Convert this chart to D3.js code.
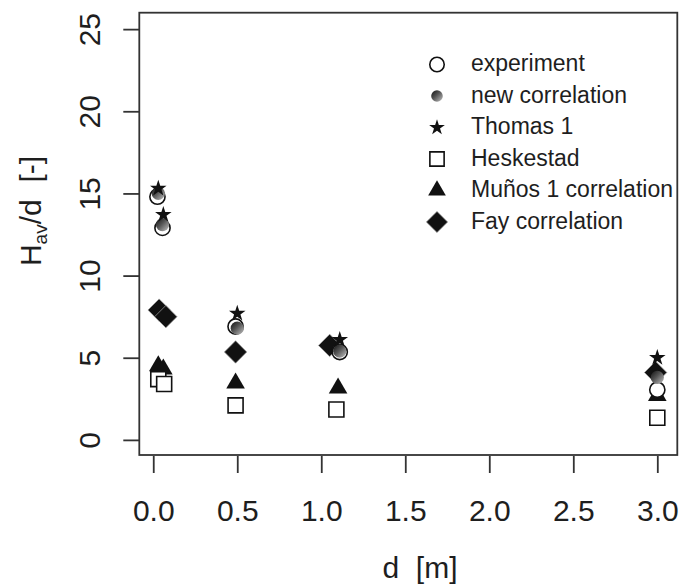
<!DOCTYPE html>
<html>
<head>
<meta charset="utf-8">
<script src="https://cdn.jsdelivr.net/npm/d3@7"></script>
<style>
  body { margin: 0; background: #fff; }
  svg { font-family: "Liberation Sans", Arial, sans-serif; }
</style>
</head>
<body>
<div id="chart"></div>
<script>
// values, d [m] and H_av/d [-]
const seriesNames = ['experiment', 'new correlation', 'Thomas 1', 'Heskestad', 'Muños 1 correlation', 'Fay correlation']

const xExperiment = [0.025, 0.055, 0.49, 1.11, 3.0]
const yExperiment = [14.8, 12.9, 6.9, 5.35, 3.05]

const xNewCorr = [0.03, 0.055, 0.5, 1.11, 3.0]
const yNewCorr = [15.0, 13.1, 6.8, 5.4, 3.8]

const xThomas = [0.03, 0.06, 0.5, 1.11, 3.0]
const yThomas = [15.3, 13.7, 7.7, 6.1, 5.0]

const xHeskestad = [0.03, 0.065, 0.49, 1.09, 3.0]
const yHeskestad = [3.7, 3.4, 2.1, 1.85, 1.35]

const xMunos = [0.03, 0.06, 0.49, 1.1, 3.0]
const yMunos = [4.5, 4.3, 3.45, 3.15, 2.7]

const xFay = [0.035, 0.075, 0.49, 1.05, 2.99]
const yFay = [7.9, 7.5, 5.35, 5.75, 4.1]

const xTicks = [0, 0.5, 1, 1.5, 2, 2.5, 3]
const yTicks = [0, 5, 10, 15, 20, 25]

const W = 688, H = 588
const ink = '#1e1e1e', frame = '#333'

const svg = d3.select('#chart').append('svg')
  .attr('width', W).attr('height', H)

// gradient for the grey "new correlation" balls
const grad = svg.append('defs').append('linearGradient')
  .attr('id', 'ball').attr('x1', 0).attr('y1', 0).attr('x2', 1).attr('y2', 1)
grad.append('stop').attr('offset', '0%').attr('stop-color', '#111')
grad.append('stop').attr('offset', '45%').attr('stop-color', '#555')
grad.append('stop').attr('offset', '100%').attr('stop-color', '#c4c4c4')

// R style: data range padded by 4% on each side
const x = d3.scaleLinear().domain([-0.083, 3.119]).range([139.3, 677.3])
const y = d3.scaleLinear().domain([-0.92, 26.0]).range([455, 12.7])

// axes
const xAxis = svg.append('g')
  .attr('transform', `translate(0,${y.range()[0] + 1})`)
  .call(d3.axisBottom(x).tickValues(xTicks).tickFormat(d3.format('.1f')).tickSize(17).tickPadding(27))
xAxis.select('.domain').remove()
xAxis.selectAll('line').attr('stroke', frame).attr('stroke-width', 1.8)
xAxis.selectAll('text').attr('font-size', 30).attr('fill', ink).attr('font-family', null)

const yAxis = svg.append('g')
  .attr('transform', `translate(${x.range()[0]},0)`)
  .call(d3.axisLeft(y).tickValues(yTicks).tickSize(16))
yAxis.select('.domain').remove()
yAxis.selectAll('line').attr('stroke', frame).attr('stroke-width', 1.8)
yAxis.selectAll('text')
  .attr('font-size', 30).attr('fill', ink).attr('font-family', null)
  .attr('x', 0).attr('y', -39).attr('dy', 0)
  .attr('text-anchor', 'middle')
  .attr('transform', 'rotate(-90)')

// plot frame
svg.append('rect')
  .attr('x', x.range()[0]).attr('y', y.range()[1])
  .attr('width', x.range()[1] - x.range()[0])
  .attr('height', y.range()[0] - y.range()[1])
  .attr('fill', 'none').attr('stroke', frame).attr('stroke-width', 1.8)

// axis titles
svg.append('text')
  .attr('x', 420).attr('y', 578)
  .attr('text-anchor', 'middle').attr('font-size', 30).attr('fill', ink)
  .style('white-space', 'pre')
  .text('d  [m]')

const yTitle = svg.append('text')
  .attr('transform', 'translate(41,211) rotate(-90)')
  .attr('text-anchor', 'middle').attr('font-size', 30).attr('fill', ink)
  .style('white-space', 'pre')
yTitle.append('tspan').text('H')
yTitle.append('tspan').attr('font-size', 19).attr('dy', 6).text('av')
yTitle.append('tspan').attr('dy', -6).text('/d  [-]')

// marker shapes
const markerStyles = {
  circle: (g, k) => g.append('circle').attr('r', 7.6 * k)
    .attr('fill', '#fff').attr('stroke', '#111').attr('stroke-width', 1.6),
  ball: (g, k) => g.append('circle').attr('r', 6.6 * k)
    .attr('fill', 'url(#ball)'),
  star: (g, k) => g.append('path')
    .attr('d', d3.symbol(d3.symbolStar, 85 * k * k)())
    .attr('fill', '#111'),
  square: (g, k) => g.append('path')
    .attr('d', d3.symbol(d3.symbolSquare, 225 * k * k)())
    .attr('fill', '#fff').attr('stroke', '#111').attr('stroke-width', 1.6),
  triangle: (g, k) => g.append('path')
    .attr('d', d3.symbol(d3.symbolTriangle, 150 * k * k)())
    .attr('fill', '#111'),
  diamond: (g, k) => g.append('path')
    .attr('d', d3.symbol(d3.symbolSquare, 250 * k * k)())
    .attr('transform', 'rotate(45)')
    .attr('fill', '#111').attr('stroke', '#9a9a9a').attr('stroke-width', 0.7)
}

// series table, in the order R drew them (first = bottom)
const series = [
  { name: seriesNames[5], xs: xFay, ys: yFay, shape: 'diamond' },
  { name: seriesNames[4], xs: xMunos, ys: yMunos, shape: 'triangle' },
  { name: seriesNames[3], xs: xHeskestad, ys: yHeskestad, shape: 'square' },
  { name: seriesNames[0], xs: xExperiment, ys: yExperiment, shape: 'circle' },
  { name: seriesNames[1], xs: xNewCorr, ys: yNewCorr, shape: 'ball' },
  { name: seriesNames[2], xs: xThomas, ys: yThomas, shape: 'star' }
]

series.forEach(s => {
  const pts = s.xs.map((d, i) => ({ d: d, h: s.ys[i] }))
  svg.append('g').selectAll('g')
    .data(pts)
    .join('g')
    .attr('transform', p => `translate(${x(p.d)},${y(p.h)})`)
    .each(function () { markerStyles[s.shape](d3.select(this), 1) })
})

// legend
const legendShapes = ['circle', 'ball', 'star', 'square', 'triangle', 'diamond']
const legend = svg.append('g').attr('transform', 'translate(437,71)')
seriesNames.forEach((name, i) => {
  const row = legend.append('g').attr('transform', `translate(0,${i * 31.5})`)
  const sym = row.append('g').attr('transform', 'translate(0,-6.5)')
  markerStyles[legendShapes[i]](sym, legendShapes[i] === 'ball' ? 0.88 : 0.95)
  row.append('text')
    .attr('x', 34).attr('y', 0)
    .attr('font-size', 23).attr('fill', ink)
    .text(name)
})
</script>
</body>
</html>
